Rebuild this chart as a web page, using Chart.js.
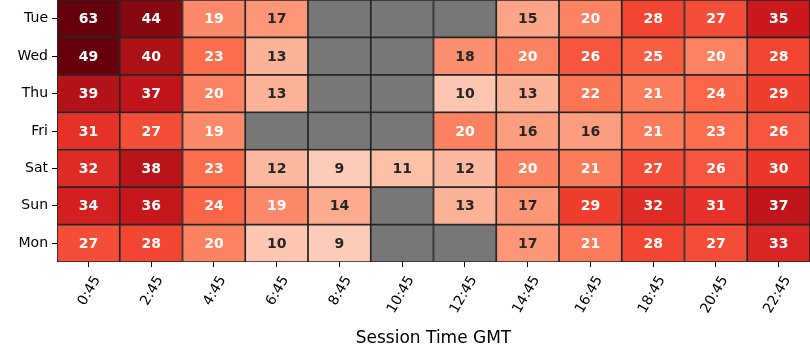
<!DOCTYPE html>
<html lang="en">
<head>
    <meta charset="UTF-8">
    <title>Session heatmap</title>
    <script src="https://cdn.jsdelivr.net/npm/chart.js"></script>
    <style>
        body { margin: 0; background: #fff; }
        #wrap { width: 810px; height: 360px; }
    </style>
</head>
<body>
    <div id="wrap"><canvas id="heat" width="810" height="360"></canvas></div>

    <script>
        // columns and rows of the heatmap
        const times = ['0:45', '2:45', '4:45', '6:45', '8:45', '10:45', '12:45', '14:45', '16:45', '18:45', '20:45', '22:45'];
        const days = ['Tue', 'Wed', 'Thu', 'Fri', 'Sat', 'Sun', 'Mon'];

        // values per day (null = no data, drawn grey)
        const tue = [63, 44, 19, 17, null, null, null, 15, 20, 28, 27, 35];
        const wed = [49, 40, 23, 13, null, null, 18, 20, 26, 25, 20, 28];
        const thu = [39, 37, 20, 13, null, null, 10, 13, 22, 21, 24, 29];
        const fri = [31, 27, 19, null, null, null, 20, 16, 16, 21, 23, 26];
        const sat = [32, 38, 23, 12, 9, 11, 12, 20, 21, 27, 26, 30];
        const sun = [34, 36, 24, 19, 14, null, 13, 17, 29, 32, 31, 37];
        const mon = [27, 28, 20, 10, 9, null, null, 17, 21, 28, 27, 33];
        const rows = [tue, wed, thu, fri, sat, sun, mon];

        // colour scale (matplotlib "Reds")
        const vmin = 0, vmax = 47;
        const reds = ['#fff5f0', '#fee0d2', '#fcbba1', '#fc9272', '#fb6a4a', '#ef3b2c', '#cb181d', '#a50f15', '#67000d'];
        const missingColor = '#777777';

        function hexRgb(h) {
            return [parseInt(h.slice(1, 3), 16), parseInt(h.slice(3, 5), 16), parseInt(h.slice(5, 7), 16)];
        }
        function cmap(v) {
            let t = (v - vmin) / (vmax - vmin);
            t = Math.max(0, Math.min(1, t));
            const p = t * (reds.length - 1);
            const i = Math.min(Math.floor(p), reds.length - 2);
            const f = p - i;
            const a = hexRgb(reds[i]), b = hexRgb(reds[i + 1]);
            return a.map((c, k) => Math.round(c + (b[k] - c) * f));
        }
        function rgbStr(c) { return 'rgb(' + c.join(',') + ')'; }
        function luminance(c) {
            const lin = c.map(x => {
                x = x / 255;
                return x <= 0.03928 ? x / 12.92 : Math.pow((x + 0.055) / 1.055, 2.4);
            });
            return 0.2126 * lin[0] + 0.7152 * lin[1] + 0.0722 * lin[2];
        }

        const datasets = rows.map((vals, r) => ({
            label: days[r],
            data: vals.map(() => [r, r + 1]),
            values: vals,
            backgroundColor: vals.map(v => v == null ? missingColor : rgbStr(cmap(v))),
            borderColor: '#262626',
            borderWidth: 1.2,
            borderSkipped: false,
            grouped: false,
            barPercentage: 1,
            categoryPercentage: 1
        }));

        // writes the value in the middle of each cell
        const cellLabels = {
            id: 'cellLabels',
            afterDatasetsDraw(chart) {
                const ctx = chart.ctx;
                ctx.save();
                ctx.font = 'bold 14px "DejaVu Sans"';
                ctx.textAlign = 'center';
                ctx.textBaseline = 'middle';
                chart.data.datasets.forEach((ds, di) => {
                    chart.getDatasetMeta(di).data.forEach((bar, i) => {
                        const v = ds.values[i];
                        if (v == null) return;
                        ctx.fillStyle = luminance(cmap(v)) > 0.408 ? '#262626' : '#ffffff';
                        ctx.fillText(String(v), bar.x, (bar.y + bar.base) / 2 + 1);
                    });
                });
                ctx.restore();
            }
        };

        Chart.defaults.font.family = '"DejaVu Sans", sans-serif';
        Chart.defaults.color = '#000000';

        new Chart(document.getElementById('heat'), {
            type: 'bar',
            data: { labels: times, datasets: datasets },
            plugins: [cellLabels],
            options: {
                responsive: false,
                animation: false,
                layout: { padding: 0 },
                plugins: { legend: { display: false }, tooltip: { enabled: false } },
                scales: {
                    x: {
                        type: 'category',
                        offset: true,
                        grid: { offset: false, drawOnChartArea: false, drawTicks: true, tickLength: 5, color: '#000000' },
                        border: { display: false },
                        ticks: { minRotation: 60, maxRotation: 60, autoSkip: false, padding: 6, labelOffset: 9, font: { size: 14 }, color: '#000000' },
                        title: { display: true, text: 'Session Time GMT', font: { size: 17 }, color: '#000000', padding: { top: 4, bottom: 11 } },
                        afterFit(scale) {
                            scale.height = 98;
                            scale.paddingLeft = 0;
                            scale.paddingRight = 0;
                        }
                    },
                    y: {
                        type: 'linear',
                        display: false,
                        min: 0,
                        max: days.length,
                        reverse: true
                    },
                    yDays: {
                        type: 'category',
                        labels: days,
                        position: 'left',
                        offset: true,
                        grid: { offset: false, drawOnChartArea: false, drawTicks: true, tickLength: 5, color: '#000000' },
                        border: { display: false },
                        ticks: { padding: 4, font: { size: 14 }, color: '#000000' },
                        afterFit(scale) {
                            scale.width = 57;
                            scale.paddingTop = 0;
                            scale.paddingBottom = 0;
                        }
                    }
                }
            }
        });
    </script>
</body>
</html>
